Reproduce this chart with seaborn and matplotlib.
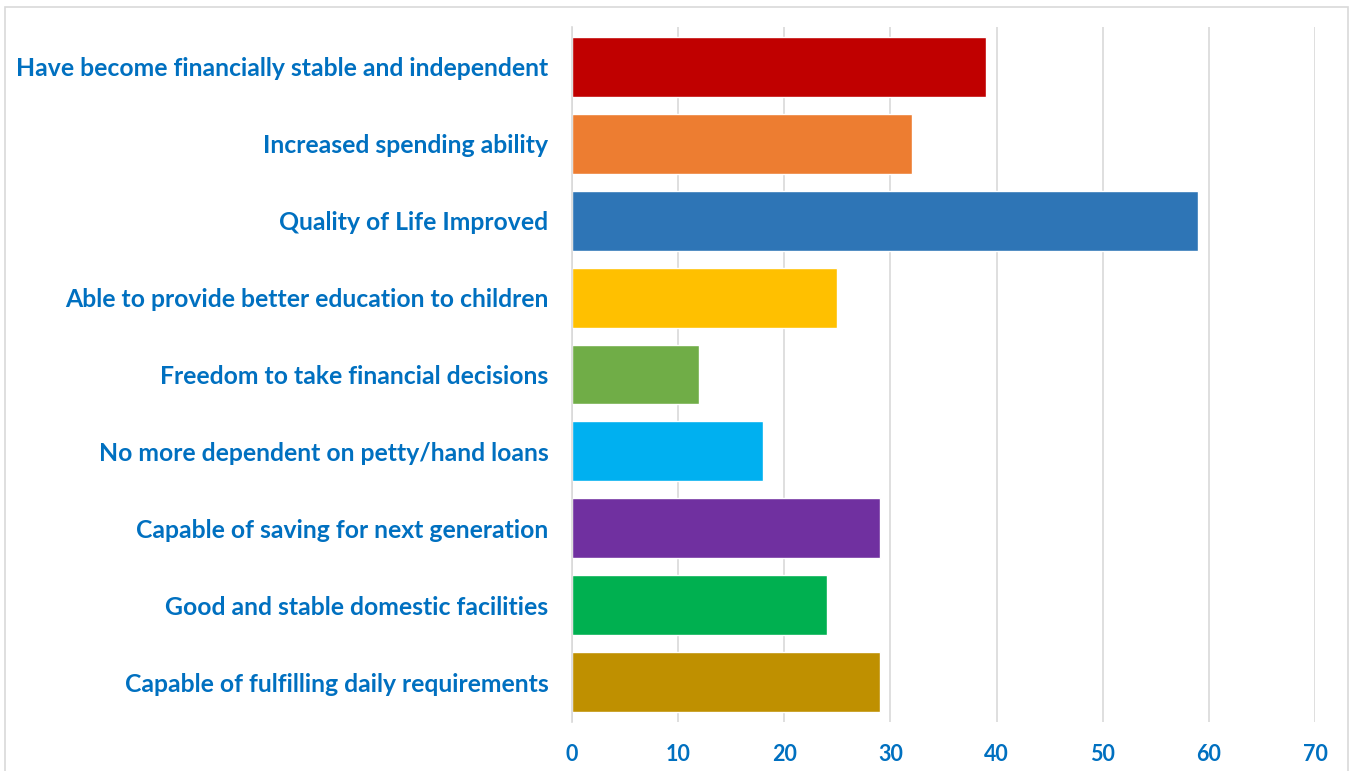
import matplotlib
matplotlib.use("Agg")
import matplotlib.pyplot as plt
import matplotlib.patches as mpatches
import seaborn as sns
import pandas as pd

categories = [
    "Have become financially stable and independent",
    "Increased spending ability",
    "Quality of Life Improved",
    "Able to provide better education to children",
    "Freedom to take financial decisions",
    "No more dependent on petty/hand loans",
    "Capable of saving for next generation",
    "Good and stable domestic facilities",
    "Capable of fulfilling daily requirements",
]
values = [39, 32, 59, 25, 12, 18, 29, 24, 29]
colors = ["#C00000", "#ED7D31", "#2E75B6", "#FFC000", "#70AD47",
          "#00B0F0", "#7030A0", "#00B050", "#BF9000"]
xticks = [0, 10, 20, 30, 40, 50, 60, 70]

sns.set_style("white")
plt.rcParams['font.family'] = ['Lato', 'DejaVu Sans']

df = pd.DataFrame({"cat": categories, "val": values})

fig = plt.figure(figsize=(13.51, 7.71), dpi=100)
ax = fig.add_axes([572/1351, 1-722/771, (1315-572)/1351, (722-27)/771])

sns.barplot(data=df, y="cat", x="val", hue="cat", palette=colors,
            orient="h", width=0.78, legend=False, ax=ax, saturation=1)

ax.set_xlim(0, 70)
ax.set_ylim(8.52, -0.52)
ax.set_xticks(xticks)
ax.set_xticklabels([str(t) for t in xticks])
ax.xaxis.grid(True, color="#d9d9d9", linewidth=1.2)
ax.set_axisbelow(True)
for s in ["top", "right", "bottom"]:
    ax.spines[s].set_visible(False)
ax.spines["left"].set_color("#d9d9d9")
ax.spines["left"].set_linewidth(1.2)
ax.set_xlabel("")
ax.set_ylabel("")
ax.tick_params(axis="both", length=0)
ax.tick_params(axis="x", pad=16, labelsize=15.5, labelcolor="#0070C0")
ax.tick_params(axis="y", pad=17, labelsize=17.8, labelcolor="#0070C0")
for lbl in ax.get_xticklabels() + ax.get_yticklabels():
    lbl.set_fontweight("bold")

border = mpatches.Rectangle((5/1351, -0.05), (1348-5)/1351, 1.05 - 7/771,
                            transform=fig.transFigure, fill=False,
                            edgecolor="#d9d9d9", linewidth=1.2)
fig.patches.append(border)

fig.savefig("out.png", dpi=100, facecolor="white")
